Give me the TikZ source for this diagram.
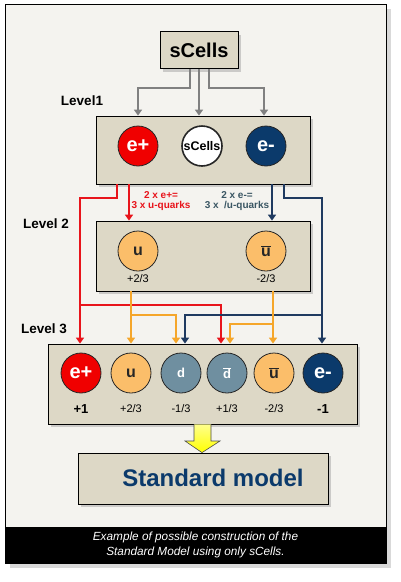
\documentclass[tikz,border=0pt]{standalone}
\usepackage{fontspec}
\setmainfont{Liberation Sans}
\usetikzlibrary{arrows.meta,shadows}
\definecolor{bgcol}{HTML}{F4F3EF}
\definecolor{boxcol}{HTML}{DDD8C6}
\definecolor{epcol}{HTML}{F00000}
\definecolor{emcol}{HTML}{0B3A6B}
\definecolor{upcol}{HTML}{FBBE6A}
\definecolor{dncol}{HTML}{6F8FA0}
\definecolor{redln}{HTML}{E8141B}
\definecolor{navyln}{HTML}{1F3A60}
\definecolor{orgln}{HTML}{F5A62A}
\definecolor{grayln}{HTML}{808080}
\definecolor{emtxt}{HTML}{3A5663}
\newcommand{\anti}[1]{$\overline{\mbox{#1}}$}
\newcommand{\fs}[1]{\fontsize{#1}{#1}\selectfont}

\begin{document}
\begin{tikzpicture}[x=1pt,y=-1pt,
  box/.style={draw=black, line width=0.8pt, fill=boxcol, drop shadow={shadow xshift=3pt, shadow yshift=-3pt, opacity=0.35}},
  ball/.style={circle, draw=black!85, line width=0.8pt, minimum size=40pt, inner sep=0pt, font=\bfseries\fs{20}},
  epball/.style={ball, fill=epcol, text=white},
  emball/.style={ball, fill=emcol, text=white},
  uball/.style={ball, fill=upcol, text=black!85, font=\bfseries\fs{16}},
  dball/.style={ball, fill=dncol, text=white, font=\bfseries\fs{13}},
  chg/.style={font=\fs{11}},
  lvl/.style={font=\bfseries\fs{13.5}},
  note/.style={align=center, font=\bfseries\fs{10}, inner sep=0pt},
  wire/.style={line width=1.6pt, -{Triangle[length=6pt,width=8pt]}}]
\useasboundingbox (0,0) rectangle (401,582);
% frame and caption
\node[draw=black, line width=0.8pt, fill=bgcol, minimum width=381pt, minimum height=559pt,
  drop shadow={shadow xshift=5pt, shadow yshift=-5pt, opacity=0.3}] (frame) at (195.5,283.5) {};
\node[fill=black, minimum width=381pt, minimum height=36pt, anchor=south, align=center,
  text=white, font=\itshape\fontsize{11.8}{15}\selectfont] (cap) at (frame.south)
  {Example of possible construction of the\\Standard Model using only sCells.};
% boxes
\node[box, minimum width=78pt, minimum height=37pt, font=\bfseries\fs{20}] (src) at (199,50) {sCells};
\node[box, minimum width=214pt, minimum height=68pt] (lvA) at (203,150) {};
\node[box, minimum width=214pt, minimum height=70pt] (lvB) at (203,256) {};
\node[box, minimum width=309pt, minimum height=80pt] (lvC) at (202.5,384) {};
\node[box, minimum width=250pt, minimum height=51pt] (sm) at (203,478.5) {};
\node[font=\bfseries\fs{24}, text=emcol] (smt) at (213,478) {Standard model};
% level labels
\node[lvl] (l1) at (82,101) {Level1};
\node[lvl] (l2) at (46,224) {Level 2};
\node[lvl] (l3) at (44,329) {Level 3};
% level 1
\node[epball] (ep1) at (138,146) {e+};
\node[ball, fill=white, line width=1.6pt, font=\bfseries\fs{12.5}] (sc1) at (202,146) {sCells};
\node[emball] (em1) at (266,146) {e-};
% level 2
\node[uball] (u2) at (138,251) {u};
\node[uball] (ub2) at (266,251) {\anti{u}};
\node[chg] (qu2) at (138,279) {+2/3};
\node[chg] (qub2) at (266,279) {-2/3};
% level 3
\foreach \n/\x/\s/\t/\q in {ep3/81/epball/e+/{\bfseries\fs{13}+1}, u3/131/uball/u/{+2/3},
    d3/181/dball/d/{-1/3}, db3/227/dball/\anti{d}/{+1/3}, ub3/274/uball/\anti{u}/{-2/3},
    em3/323/emball/e-/{\bfseries\fs{13}-1}} {
  \node[\s] (\n) at (\x,373) {\t};
  \node[chg] (q\n) at (\x,409) {\q};
}
% sCells -> level 1
\draw[wire, grayln] (src.south -| 190,0) |- (138,88) -- (lvA.north -| 138,0);
\draw[wire, grayln] (src.south -| 199,0) -- (lvA.north -| 199,0);
\draw[wire, grayln] (src.south -| 209,0) |- (264,88) -- (lvA.north -| 264,0);
% level 1 -> level 2 and 3
\draw[wire, redln] (lvA.south -| 117,0) |- (80,198) -- (lvC.north -| 80,0);
\draw[wire, redln] (80,305) -| (lvC.north -| 221,0);
\draw[wire, redln] (lvA.south -| 129,0) -- (lvB.north -| 129,0);
\draw[wire, navyln] (lvA.south -| 272,0) -- (lvB.north -| 272,0);
\draw[wire, navyln] (lvA.south -| 284,0) |- (322,198) -- (lvC.north -| 322,0);
\draw[wire, navyln] (322,315) -| (lvC.north -| 185,0);
\node[note, text=redln] (eqp) at (161,201) {2 x e+=\\3 x u-quarks};
\node[note, text=emtxt] (eqm) at (237,201) {2 x e-=\\3 x\ \ /u-quarks};
% level 2 -> level 3
\draw[wire, orgln] (lvB.south -| 131,0) -- (lvC.north -| 131,0);
\draw[wire, orgln] (131,315) -| (lvC.north -| 176,0);
\draw[wire, orgln] (lvB.south -| 273,0) -- (lvC.north -| 273,0);
\draw[wire, orgln] (273,324) -| (lvC.north -| 230,0);
% level 3 -> standard model
\draw[draw=black!70, line width=0.6pt, top color=yellow!45, bottom color=yellow]
  (lvC.south -| 194,0) -- (194,441) -- (185,441) -- (sm.north -| 202,0)
  -- (220,441) -- (211,441) -- (lvC.south -| 211,0);
\end{tikzpicture}
\end{document}
